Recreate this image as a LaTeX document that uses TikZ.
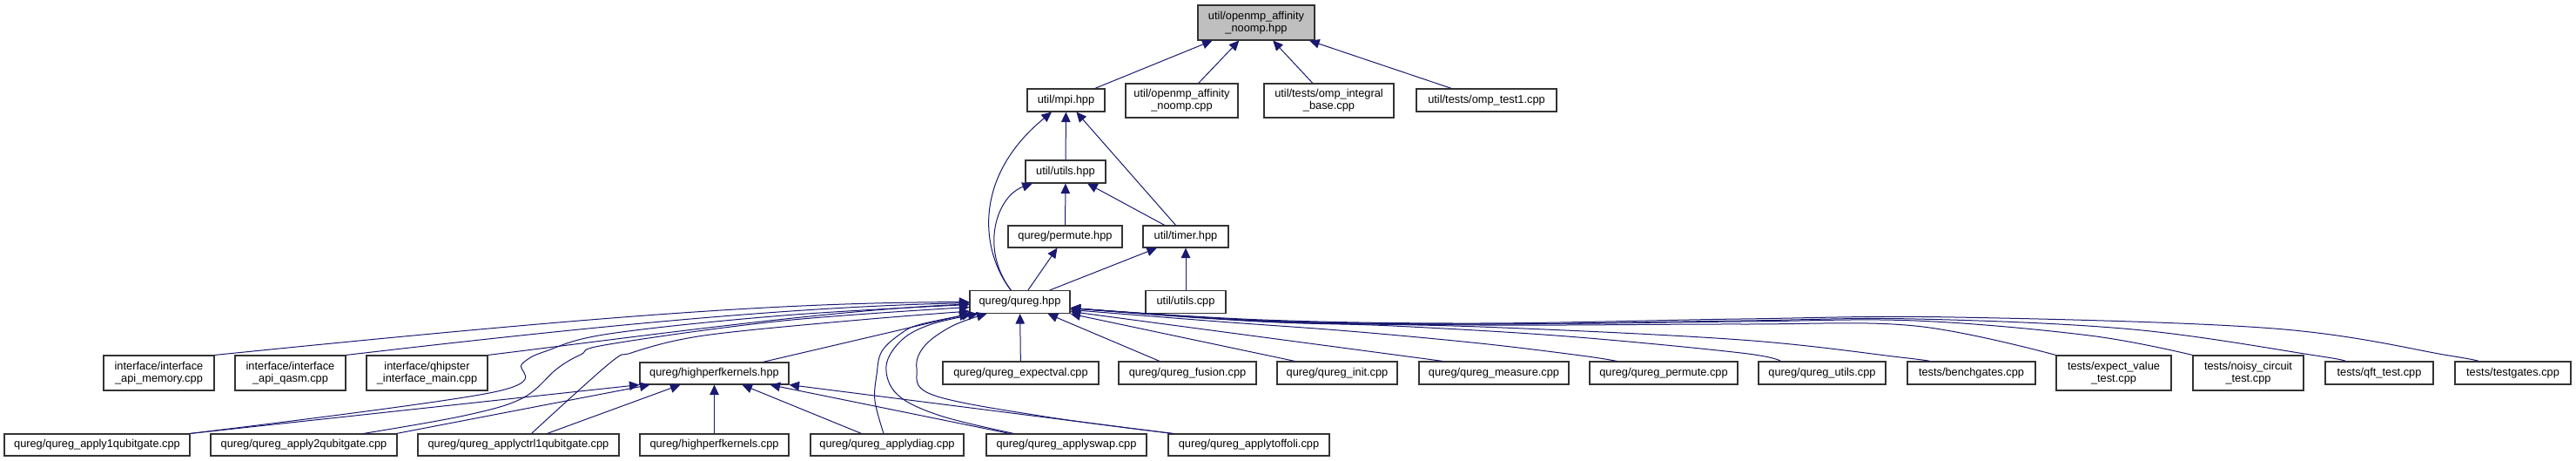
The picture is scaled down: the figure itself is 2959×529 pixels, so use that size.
\documentclass[tikz,border=0pt]{standalone}
\usepackage{fontspec}
\setmainfont{Liberation Sans}
\usetikzlibrary{arrows.meta,calc}
\definecolor{depblue}{HTML}{191970}
\definecolor{topgray}{HTML}{BFBFBF}
\begin{document}
\begin{tikzpicture}[x=1pt,y=-1pt,
  box/.style={draw=black!80, line width=1.1pt, fill=white, inner sep=0pt, align=center,
              font=\fontsize{12.8}{14.3}\selectfont},
  one/.style={box, minimum height=26pt},
  two/.style={box, minimum height=40pt},
  dep/.style={draw=depblue, line width=1pt, -{Triangle[length=11.5pt,width=10.5pt]}},
  sm/.style={smooth, tension=0.6}]
\useasboundingbox (0,0) rectangle (2959,529);

% ---- nodes ----
\node[two, fill=topgray, minimum width=134pt] (top) at (1443,26) {util/openmp\_affinity\\\_noomp.hpp};
\node[one, minimum width=89pt]  (mpi)      at (1224.5,115)  {util/mpi.hpp};
\node[two, minimum width=129pt, minimum height=39pt] (noompcpp) at (1357.5,115.5) {util/openmp\_affinity\\\_noomp.cpp};
\node[two, minimum width=149pt, minimum height=39pt] (integral) at (1526.5,115.5) {util/tests/omp\_integral\\\_base.cpp};
\node[one, minimum width=161pt] (test1)    at (1707.5,115)  {util/tests/omp\_test1.cpp};
\node[one, minimum width=92pt]  (utilshpp) at (1224,197)    {util/utils.hpp};
\node[one, minimum width=131pt, minimum height=25pt] (permutehpp) at (1223.5,271.5) {qureg/permute.hpp};
\node[one, minimum width=98pt,  minimum height=25pt] (timer)      at (1362,271.5)   {util/timer.hpp};
\node[one, minimum width=115pt] (qureg)    at (1171.5,346.5) {qureg/qureg.hpp};
\node[one, minimum width=92pt]  (utilscpp) at (1362,346.5)   {util/utils.cpp};

\node[two, minimum width=127pt] (apimem)   at (182.5,428) {interface/interface\\\_api\_memory.cpp};
\node[two, minimum width=127pt] (apiqasm)  at (333.5,428) {interface/interface\\\_api\_qasm.cpp};
\node[two, minimum width=139pt] (qhipster) at (490.5,428) {interface/qhipster\\\_interface\_main.cpp};
\node[one, minimum width=171pt, minimum height=25pt] (hpk) at (820.5,428.5) {qureg/highperfkernels.hpp};
\node[one, minimum width=179pt] (expectval)  at (1172.5,428) {qureg/qureg\_expectval.cpp};
\node[one, minimum width=158pt] (fusion)     at (1364,428)   {qureg/qureg\_fusion.cpp};
\node[one, minimum width=138pt] (init)       at (1536,428)   {qureg/qureg\_init.cpp};
\node[one, minimum width=172pt] (measure)    at (1716,428)   {qureg/qureg\_measure.cpp};
\node[one, minimum width=170pt] (permutecpp) at (1911,428)   {qureg/qureg\_permute.cpp};
\node[one, minimum width=146pt] (qutils)     at (2093,428)   {qureg/qureg\_utils.cpp};
\node[one, minimum width=147pt] (bench)      at (2264.5,428) {tests/benchgates.cpp};
\node[two, minimum width=132pt] (evtest)     at (2428,428)   {tests/expect\_value\\\_test.cpp};
\node[two, minimum width=127pt] (noisy)      at (2582.5,428) {tests/noisy\_circuit\\\_test.cpp};
\node[one, minimum width=124pt] (qft)        at (2733,428)   {tests/qft\_test.cpp};
\node[one, minimum width=133pt] (testgates)  at (2886.5,428) {tests/testgates.cpp};

\node[one, minimum width=213pt, minimum height=25pt] (a1)      at (111.5,510.5)  {qureg/qureg\_apply1qubitgate.cpp};
\node[one, minimum width=214pt, minimum height=25pt] (a2)      at (349,510.5)    {qureg/qureg\_apply2qubitgate.cpp};
\node[one, minimum width=231pt, minimum height=25pt] (ac1)     at (595.5,510.5)  {qureg/qureg\_applyctrl1qubitgate.cpp};
\node[one, minimum width=171pt, minimum height=25pt] (hpkcpp)  at (820.5,510.5)  {qureg/highperfkernels.cpp};
\node[one, minimum width=176pt, minimum height=25pt] (diag)    at (1019,510.5)   {qureg/qureg\_applydiag.cpp};
\node[one, minimum width=184pt, minimum height=25pt] (swap)    at (1225,510.5)   {qureg/qureg\_applyswap.cpp};
\node[one, minimum width=185pt, minimum height=25pt] (toffoli) at (1434.5,510.5) {qureg/qureg\_applytoffoli.cpp};

% ---- upper edges ----
\draw[dep] (mpi) -- (top);
\draw[dep] (noompcpp) -- (top);
\draw[dep] (integral) -- (top);
\draw[dep] (test1) -- (top);
\draw[dep] (utilshpp) -- (mpi);
\draw[dep] (timer) -- (mpi);
\draw[dep] (qureg) .. controls (1128,290) and (1115,205) .. (mpi);
\draw[dep] (permutehpp) -- (utilshpp);
\draw[dep] (timer) -- (utilshpp);
\draw[dep] (qureg) .. controls (1125,285) and (1145,225) .. (utilshpp);
\draw[dep] (qureg) -- (permutehpp);
\draw[dep] (qureg) -- (timer);
\draw[dep] (utilscpp) -- (timer);

% ---- middle row to qureg ----
\draw[dep] (apimem.north east) .. controls (696,362) and (900,347) .. (qureg);
\draw[dep] (apiqasm.north east) .. controls (650,378) and (900,352) .. (qureg);
\draw[dep] (qhipster.north east) .. controls (720,388) and (950,356) .. (qureg);
\draw[dep] (hpk) -- (qureg);
\draw[dep] (expectval) -- (qureg);
\draw[dep] (fusion) -- (qureg);
\draw[dep] ($(init.north west)+(21,0)$) -- (qureg.south east);
\draw[dep] ($(measure.north west)+(28,0)$) -- ($(qureg.east)+(0,11)$);
\draw[dep] plot[sm] coordinates {($(permutecpp.north west)+(32,0)$) (1816,408) (1700,394) (1550,380) (1400,369) ($(qureg.east)+(0,9)$)};
\draw[dep] plot[sm] coordinates {($(qutils.north west)+(26,0)$) (2000,405) (1800,386) (1600,374) (1450,369) ($(qureg.east)+(0,7)$)};
\draw[dep] plot[sm] coordinates {($(bench.north west)+(26,0)$) (2183,410) (2000,390) (1700,375) (1450,369) ($(qureg.east)+(0,7)$)};
\draw[dep] plot[sm] coordinates {(evtest.north west) (2200,374) (2000,372) (1700,373) (1450,368) ($(qureg.east)+(0,7)$)};
\draw[dep] plot[sm] coordinates {(noisy.north west) (2400,385) (2200,368) (2000,369) (1700,372) (1450,368) ($(qureg.east)+(0,7)$)};
\draw[dep] plot[sm] coordinates {($(qft.north west)+(23,0)$) (2660,408) (2450,378) (2200,366) (2000,368) (1700,372) (1450,368) ($(qureg.east)+(0,7)$)};
\draw[dep] plot[sm] coordinates {($(testgates.north west)+(27,0)$) (2813,408) (2612,377) (2245,364) (2000,366) (1700,371) (1450,367) ($(qureg.east)+(0,7)$)};

% ---- bottom row to qureg ----
\draw[dep] plot[sm] coordinates {(a1.north east) (567,450) (600,417) (627,403) (700,383) (900,362) ($(qureg.west)+(0,3)$)};
\draw[dep] plot[sm] coordinates {($(a2.north east)+(-39,0)$) (533,477) (600,457) (640,423) (667,407) (700,395) (900,368) ($(qureg.west)+(0,6)$)};
\draw[dep] plot[sm] coordinates {($(ac1.north east)+(-101,0)$) (700,417) (725,405) (780,390) (850,380) (1000,366) ($(qureg.south west)+(0,-3)$)};
\draw[dep] plot[sm] coordinates {($(diag.north)+(-4,0)$) (1005,460) (1007,430) (1013,403) (1036,382) (1058,372) ($(qureg.south west)+(3,0)$)};
\draw[dep] plot[sm] coordinates {($(swap.north west)+(32,0)$) (1080,477) (1031,453) (1018,420) (1036,390) (1070,372) ($(qureg.south west)+(10,0)$)};
\draw[dep] plot[sm] coordinates {($(toffoli.north west)+(6,0)$) (1200,478) (1071,453) (1053,423) (1062,397) (1094,374) ($(qureg.south west)+(20,0)$)};

% ---- bottom row to highperfkernels.hpp ----
\draw[dep] (a1.north east) -- (hpk.south west);
\draw[dep] ($(a2.north east)+(-1,0)$) -- ($(hpk.south west)+(12,0)$);
\draw[dep] ($(ac1.north east)+(-83,0)$) -- ($(hpk.south west)+(47,0)$);
\draw[dep] (hpkcpp) -- (hpk);
\draw[dep] ($(diag.north west)+(59,0)$) -- ($(hpk.south west)+(118,0)$);
\draw[dep] ($(swap.north west)+(27,0)$) -- ($(hpk.south east)+(-22,0)$);
\draw[dep] ($(toffoli.north west)+(5,0)$) -- (hpk.south east);
\end{tikzpicture}
\end{document}
